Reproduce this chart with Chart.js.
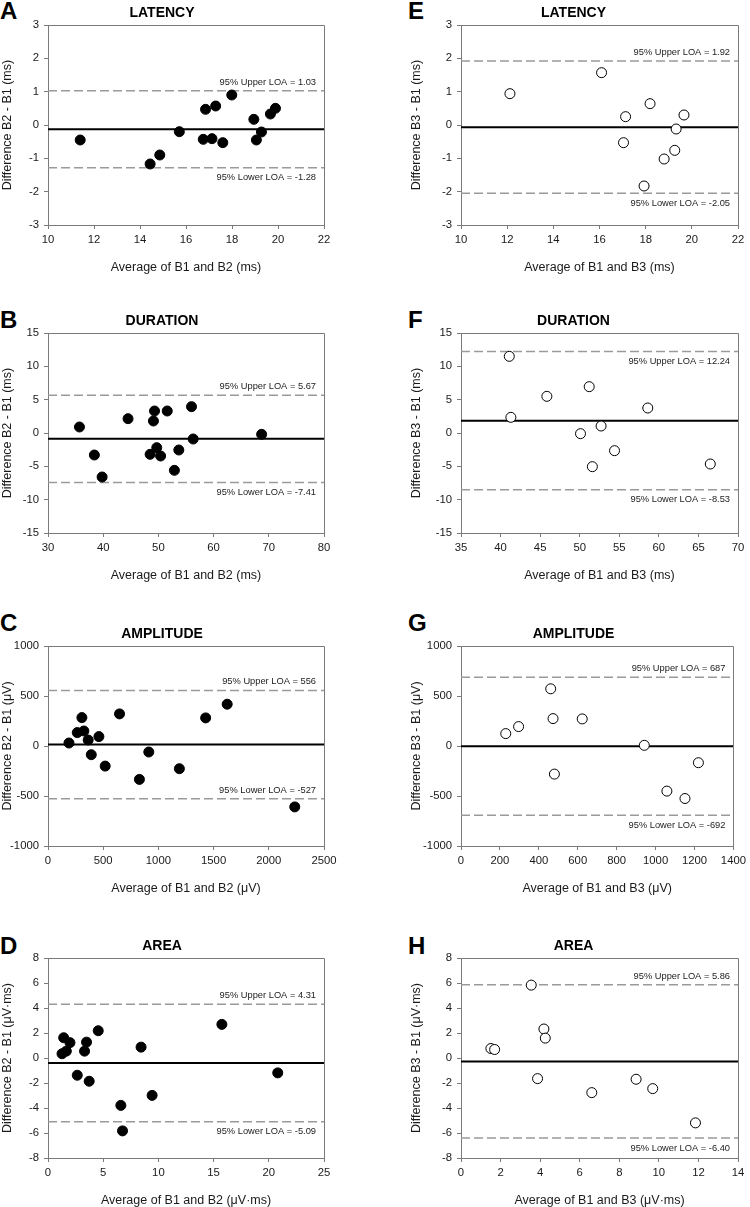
<!DOCTYPE html>
<html>
<head>
<meta charset="utf-8">
<script src="https://cdn.jsdelivr.net/npm/chart.js@4"></script>
<style>
  html, body { margin: 0; padding: 0; background: #fff; }
  body { position: relative; width: 750px; height: 1207px; overflow: hidden; }
  .panel { position: absolute; }
  .letter { position: absolute; font: bold 24px "Liberation Sans", Arial, sans-serif; line-height: 1; color: #000; }
</style>
</head>
<body>
<script>
// B2 vs B1 (filled markers)
const latencyAvgB2 = [11.40, 14.44, 14.86, 15.71, 16.75, 16.85, 17.13, 17.29, 17.60, 17.99, 18.95, 19.06, 19.28, 19.67, 19.89];
const latencyDiffB2 = [-0.45, -1.17, -0.90, -0.20, -0.43, 0.47, -0.41, 0.57, -0.53, 0.90, 0.17, -0.45, -0.21, 0.33, 0.50];
const durationAvgB2 = [35.7, 38.4, 39.8, 44.5, 48.5, 49.1, 49.3, 49.7, 50.4, 51.6, 52.9, 53.7, 56.0, 56.3, 68.7];
const durationDiffB2 = [0.9, -3.3, -6.6, 2.15, -3.2, 1.8, 3.3, -2.2, -3.45, 3.3, -5.6, -2.55, 3.95, -0.9, -0.2];
const amplitudeAvgB2 = [190, 265, 307, 325, 364, 392, 461, 518, 648, 828, 913, 1190, 1428, 1623, 2235];
const amplitudeDiffB2 = [30, 134, 284, 150, 60, -87, 94, -201, 321, -334, -60, -227, 281, 418, -609];
const areaAvgB2 = [1.27, 1.42, 1.66, 1.99, 2.65, 3.31, 3.49, 3.73, 4.55, 6.60, 6.75, 8.43, 9.43, 15.75, 20.81];
const areaDiffB2 = [0.34, 1.62, 0.55, 1.23, -1.38, 0.55, 1.27, -1.86, 2.18, -3.79, -5.83, 0.87, -2.99, 2.69, -1.19];

// B3 vs B1 (open markers)
const latencyAvgB3 = [12.12, 16.09, 17.13, 17.04, 18.19, 17.93, 18.80, 19.26, 19.32, 19.66];
const latencyDiffB3 = [0.94, 1.57, 0.25, -0.53, 0.64, -1.83, -1.02, -0.76, -0.12, 0.30];
const durationAvgB3 = [41.1, 41.3, 45.85, 50.1, 51.2, 51.6, 52.7, 54.4, 58.6, 66.5];
const durationDiffB3 = [11.5, 2.35, 5.5, -0.1, 6.95, -5.05, 1.05, -2.65, 3.75, -4.65];
const amplitudeAvgB3 = [230, 296, 461, 473, 480, 623, 942, 1058, 1151, 1220];
const amplitudeDiffB3 = [124, 194, 572, 274, -281, 271, 7, -451, -525, -167];
const areaAvgB3 = [1.51, 1.70, 3.55, 3.87, 4.19, 4.26, 6.61, 8.85, 9.69, 11.85];
const areaDiffB3 = [0.76, 0.68, 5.83, -1.65, 2.32, 1.59, -2.77, -1.70, -2.45, -5.19];

// panels A..H
const panelLetters = ['A', 'B', 'C', 'D', 'E', 'F', 'G', 'H'];
const panelTitles = ['LATENCY', 'DURATION', 'AMPLITUDE', 'AREA', 'LATENCY', 'DURATION', 'AMPLITUDE', 'AREA'];
const upperLOA = [1.03, 5.67, 556, 4.31, 1.92, 12.24, 687, 5.86];
const lowerLOA = [-1.28, -7.41, -527, -5.09, -2.05, -8.53, -692, -6.40];
const meanDiff = [-0.125, -0.87, 14.5, -0.39, -0.065, 1.855, -2.5, -0.27];
const loaDecimals = [2, 2, 0, 2, 2, 2, 0, 2];

// axis ticks
const xMin = [10, 30, 0, 0, 10, 35, 0, 0];
const xMax = [22, 80, 2500, 25, 22, 70, 1400, 14];
const xStep = [2, 10, 500, 5, 2, 5, 200, 2];
const yMin = [-3, -15, -1000, -8, -3, -15, -1000, -8];
const yMax = [3, 15, 1000, 8, 3, 15, 1000, 8];
const yStep = [1, 5, 500, 2, 1, 5, 500, 2];

const xTitles = ['Average of B1 and B2 (ms)', 'Average of B1 and B2 (ms)', 'Average of B1 and B2 (μV)', 'Average of B1 and B2 (μV·ms)',
                 'Average of B1 and B3 (ms)', 'Average of B1 and B3 (ms)', 'Average of B1 and B3 (μV)', 'Average of B1 and B3 (μV·ms)'];
const yTitles = ['Difference B2 - B1 (ms)', 'Difference B2 - B1 (ms)', 'Difference B2 - B1 (μV)', 'Difference B2 - B1 (μV·ms)',
                 'Difference B3 - B1 (ms)', 'Difference B3 - B1 (ms)', 'Difference B3 - B1 (μV)', 'Difference B3 - B1 (μV·ms)'];

const seriesX = [latencyAvgB2, durationAvgB2, amplitudeAvgB2, areaAvgB2, latencyAvgB3, durationAvgB3, amplitudeAvgB3, areaAvgB3];
const seriesY = [latencyDiffB2, durationDiffB2, amplitudeDiffB2, areaDiffB2, latencyDiffB3, durationDiffB3, amplitudeDiffB3, areaDiffB3];

// layout
const plotTops = [25, 333, 646, 958];
const letterTops = [-1, 308, 611, 934];
const FONT = '"Liberation Sans", Arial, sans-serif';
const AXIS = '#7a7a7a';

Chart.defaults.font.family = FONT;
Chart.defaults.color = '#1a1a1a';
Chart.defaults.animation = false;

// top + right edge of the box
const frame = {
    id: 'frame',
    afterDraw(chart) {
        const { ctx, chartArea: a } = chart;
        ctx.save();
        ctx.strokeStyle = AXIS;
        ctx.lineWidth = 1;
        ctx.beginPath();
        ctx.moveTo(Math.round(a.left), Math.round(a.top) + 0.5);
        ctx.lineTo(Math.round(a.right) + 0.5, Math.round(a.top) + 0.5);
        ctx.lineTo(Math.round(a.right) + 0.5, Math.round(a.bottom));
        ctx.stroke();
        ctx.restore();
    }
};

// "95% Upper / Lower LOA" labels
const loaLabels = {
    id: 'loaLabels',
    afterDatasetsDraw(chart, args, opts) {
        const { ctx, chartArea: a, scales: { y } } = chart;
        ctx.save();
        ctx.font = '9.3px ' + FONT;
        ctx.fillStyle = '#222';
        ctx.textAlign = 'right';
        ctx.textBaseline = 'middle';
        const x = a.right - 8;
        const yu = y.getPixelForValue(opts.upper);
        const yl = y.getPixelForValue(opts.lower);
        ctx.fillText('95% Upper LOA = ' + opts.upper.toFixed(opts.dec), x, yu + (opts.upperBelow ? 10 : -8.5));
        ctx.fillText('95% Lower LOA = ' + opts.lower.toFixed(opts.dec), x, yl + (opts.lowerAbove ? -8.5 : 10));
        ctx.restore();
    }
};

function hLine(i, value, color, width, dash) {
    return {
        type: 'scatter',
        data: [{ x: xMin[i], y: value }, { x: xMax[i], y: value }],
        showLine: true,
        borderColor: color,
        borderWidth: width,
        borderDash: dash,
        pointRadius: 0,
        clip: false
    };
}

const plainNumber = (v) => String(v);

function drawPanel(i) {
    const col = i < 4 ? 0 : 1;
    const row = i % 4;
    const W = 375, H = 275;
    const left = col * 375;
    const top = plotTops[row] - 25;

    const letter = document.createElement('div');
    letter.className = 'letter';
    letter.textContent = panelLetters[i];
    letter.style.left = (col ? 408 : 0) + 'px';
    letter.style.top = letterTops[row] + 'px';
    document.body.appendChild(letter);

    const wrap = document.createElement('div');
    wrap.className = 'panel';
    wrap.style.left = left + 'px';
    wrap.style.top = top + 'px';
    const canvas = document.createElement('canvas');
    canvas.width = W;
    canvas.height = H;
    canvas.style.width = W + 'px';
    canvas.style.height = H + 'px';
    wrap.appendChild(canvas);
    document.body.appendChild(wrap);

    const filled = col === 0;
    const padLeft = col ? 34 : 0;
    const yWidth = col ? 52 : 48;
    const padRight = col ? 12 : 51;

    new Chart(canvas, {
        type: 'scatter',
        data: {
            datasets: [
                {
                    data: seriesX[i].map((x, k) => ({ x: x, y: seriesY[i][k] })),
                    pointRadius: 5,
                    pointBackgroundColor: filled ? '#000' : '#fff',
                    pointBorderColor: '#000',
                    pointBorderWidth: 1
                },
                hLine(i, meanDiff[i], '#000', 2, []),
                hLine(i, upperLOA[i], '#9a9a9a', 1.5, [9, 4]),
                hLine(i, lowerLOA[i], '#9a9a9a', 1.5, [9, 4])
            ]
        },
        options: {
            responsive: false,
            events: [],
            layout: { padding: { top: 5.2, left: padLeft, right: padRight, bottom: 0 } },
            plugins: {
                legend: { display: false },
                tooltip: { enabled: false },
                title: {
                    display: true,
                    text: panelTitles[i],
                    color: '#000',
                    font: { size: 14, weight: 'bold' },
                    padding: { top: 0, bottom: 3 }
                },
                loaLabels: {
                    upper: upperLOA[i],
                    lower: lowerLOA[i],
                    dec: loaDecimals[i],
                    upperBelow: i === 5,
                    lowerAbove: i === 2
                }
            },
            scales: {
                x: {
                    type: 'linear',
                    min: xMin[i],
                    max: xMax[i],
                    afterFit: (s) => { s.height = 50; },
                    ticks: { stepSize: xStep[i], padding: 4, maxRotation: 0, font: { size: 11.3 }, color: '#1a1a1a', callback: plainNumber },
                    grid: { drawOnChartArea: false, drawTicks: true, tickLength: 4, color: AXIS },
                    border: { display: true, color: AXIS, width: 1 },
                    title: { display: true, text: xTitles[i], font: { size: 12.5 }, color: '#1a1a1a', padding: 0 }
                },
                y: {
                    type: 'linear',
                    min: yMin[i],
                    max: yMax[i],
                    afterFit: (s) => { s.width = yWidth; },
                    ticks: { stepSize: yStep[i], padding: 5, font: { size: 11.3 }, color: '#1a1a1a', callback: plainNumber },
                    grid: { drawOnChartArea: false, drawTicks: true, tickLength: 4, color: AXIS },
                    border: { display: true, color: AXIS, width: 1 },
                    title: { display: true, text: yTitles[i], font: { size: 12.5 }, color: '#1a1a1a', padding: 0 }
                }
            }
        },
        plugins: [frame, loaLabels]
    });
}

for (let i = 0; i < 8; i++) drawPanel(i);
</script>
</body>
</html>
